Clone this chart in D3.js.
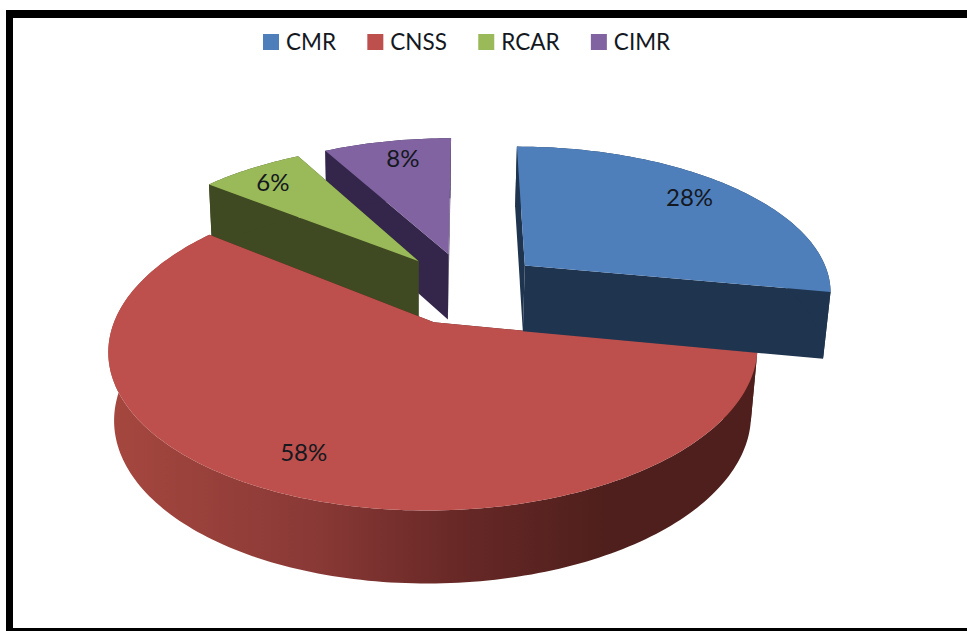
<!DOCTYPE html>
<html>
<head>
<meta charset="utf-8">
<script src="https://d3js.org/d3.v7.min.js"></script>
<style>
    html, body { margin: 0; padding: 0; background: #fff; overflow: hidden; }
    text { font-family: Lato, "Open Sans", sans-serif; fill: #14181f; }
</style>
</head>
<body>
<svg id="chart" width="967" height="631"></svg>
<script>
const categories = ['CMR', 'CNSS', 'RCAR', 'CIMR'];
const shares = [28, 57.6, 6.4, 8];
const topColors = ['#4f7fba', '#bd504c', '#9aba59', '#8063a0'];
const wallColors = ['#1f344f', '#4e1f1c', '#3f4a22', '#33264a'];
const drawOrder = [3, 2, 1, 0];
const labelNudge = [[-6, -2], [-1, -3], [-6, -1], [6, -1]];

const width = 967, height = 631;
const svg = d3.select('#chart');

// 投影参数: u 向右, v 朝向观察者, h 向下(0顶面 1底面)
const view = {cx: 467, cy: 288, scaleX: 308, scaleY: 145, depth: 69, tilt: 0.163, shrinkX: 0.018, shrinkY: 0.036, lean: -1};
const explode = 0.25;
const labelRadius = 0.82;

function project(u, v, h) {
    let w = 1 - view.tilt * v;
    return [
        view.cx + view.scaleX * u / (w + view.shrinkX * h) + view.lean * h,
        view.cy + (view.scaleY * v + view.depth * h) / (w + view.shrinkY * h)
    ];
}

// 扇区内一点, 已包含爆炸偏移
function slicePoint(d, angle, r, h) {
    let mid = (d.startAngle + d.endAngle) / 2;
    let u = Math.sin(angle) * r + Math.sin(mid) * explode;
    let v = -Math.cos(angle) * r - Math.cos(mid) * explode;
    return project(u, v, h);
}

function rimAngles(d) {
    let steps = Math.ceil((d.endAngle - d.startAngle) / 0.02);
    return d3.range(steps + 1).map(i => d.startAngle + (d.endAngle - d.startAngle) * i / steps);
}

const pie = d3.pie().sort(null)(shares);
const line = d3.line().curve(d3.curveLinearClosed);

// 红色外壁的渐变
const gradient = svg.append('defs').append('linearGradient')
    .attr('id', 'cnssWall')
    .attr('gradientUnits', 'userSpaceOnUse')
    .attr('x1', 113).attr('x2', 610).attr('y1', 0).attr('y2', 0);
gradient.selectAll('stop')
    .data([[0, '#a5473f'], [0.4, '#8a3936'], [0.7, '#672826'], [1, '#4e1f1c']])
    .join('stop')
    .attr('offset', d => d[0])
    .attr('stop-color', d => d[1]);

// 外框
svg.append('g').selectAll('rect')
    .data([[6, 10, width - 6, 8], [6, 10, 7, height - 10], [6, 628, width - 6, 3]])
    .join('rect')
    .attr('x', d => d[0]).attr('y', d => d[1])
    .attr('width', d => d[2]).attr('height', d => d[3])
    .attr('fill', '#000');

const slices = svg.append('g').selectAll('g')
    .data(drawOrder.map(i => pie[i]))
    .join('g');

slices.each(function (d) {
    let g = d3.select(this);
    let i = d.index;
    let angles = rimAngles(d);
    // 两个径向内壁
    [d.startAngle, d.endAngle].forEach(a => {
        g.append('path')
            .attr('d', line([
                slicePoint(d, a, 0, 0), slicePoint(d, a, 1, 0),
                slicePoint(d, a, 1, 1), slicePoint(d, a, 0, 1)
            ]))
            .attr('fill', wallColors[i]);
    });
    // 外壁
    let wall = angles.map(a => slicePoint(d, a, 1, 0))
        .concat(angles.slice().reverse().map(a => slicePoint(d, a, 1, 1)));
    g.append('path')
        .attr('d', line(wall))
        .attr('fill', i === 1 ? 'url(#cnssWall)' : wallColors[i]);
    // 顶面
    let top = [slicePoint(d, d.startAngle, 0, 0)].concat(angles.map(a => slicePoint(d, a, 1, 0)));
    g.append('path')
        .attr('d', line(top))
        .attr('fill', topColors[i]);
});

// 百分比标签
svg.append('g').selectAll('text')
    .data(pie)
    .join('text')
    .attr('transform', d => {
        let p = slicePoint(d, (d.startAngle + d.endAngle) / 2, labelRadius, 0);
        let n = labelNudge[d.index];
        return 'translate(' + (p[0] + n[0]) + ',' + (p[1] + n[1]) + ')';
    })
    .attr('text-anchor', 'middle')
    .attr('dy', '0.36em')
    .attr('font-size', 24)
    .text(d => Math.round(d.data) + '%');

// 图例, 按文字宽度依次排开
const legend = svg.append('g').selectAll('g')
    .data(categories)
    .join('g');
legend.append('rect')
    .attr('y', 34)
    .attr('width', 16).attr('height', 16)
    .attr('fill', (d, i) => topColors[i]);
legend.append('text')
    .attr('x', 23).attr('y', 50)
    .attr('font-size', 22.5)
    .text(d => d);
let legendX = 263;
legend.each(function () {
    d3.select(this).attr('transform', 'translate(' + legendX + ',0)');
    legendX += 23 + d3.select(this).select('text').node().getComputedTextLength() + 31.3;
});
</script>
</body>
</html>
